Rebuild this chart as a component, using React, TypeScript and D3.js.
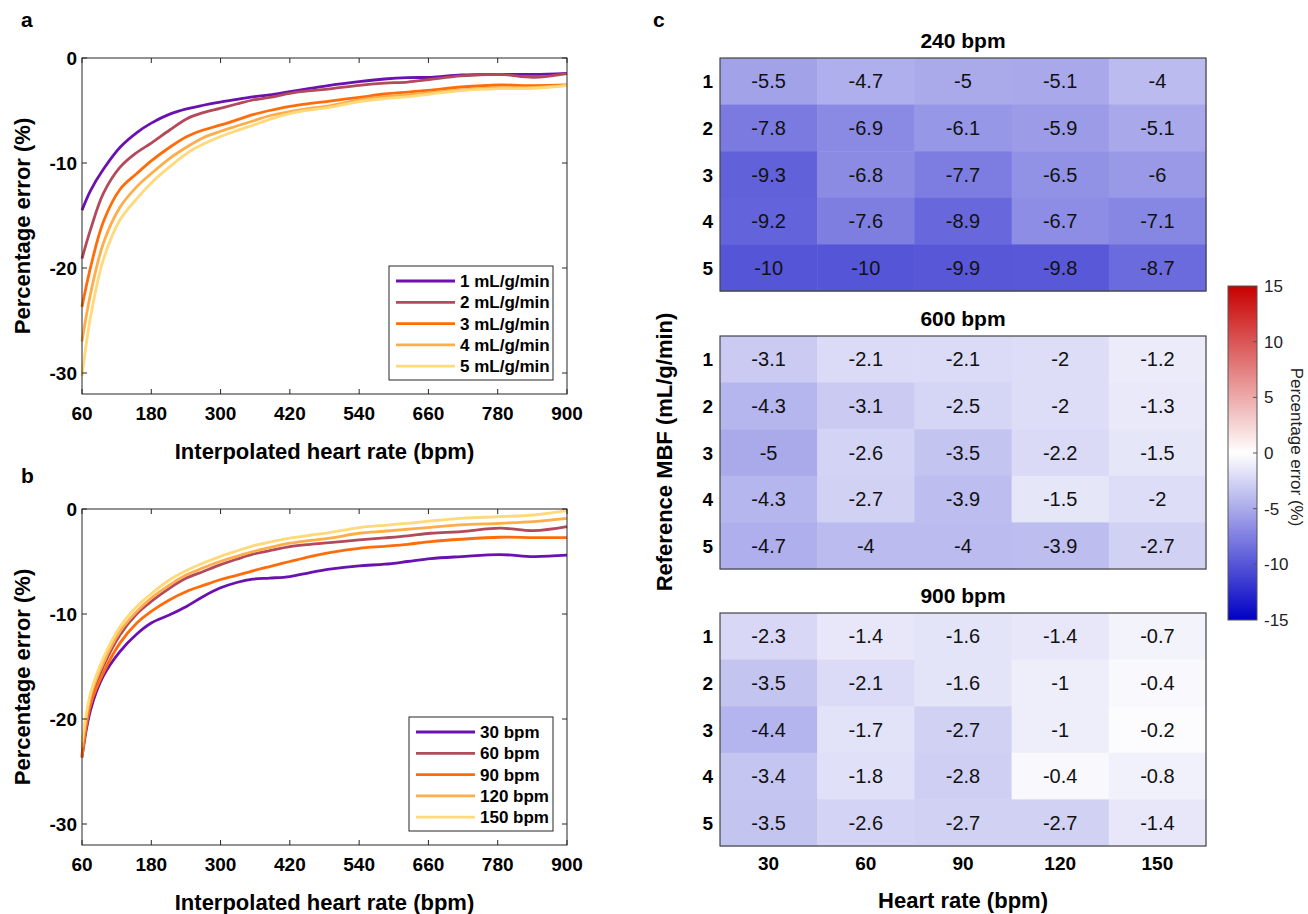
import React from "react";
import * as d3 from "d3";

// interpolated heart rate grid (bpm) shared by panels a and b
const hrGrid = [60, 75, 97, 126, 155, 180, 212, 241, 270, 299, 328, 356, 385, 420, 455, 489, 540, 584, 624, 664, 717, 784, 842, 900];

// panel a: one curve per reference MBF
const mbfLabels = ["1 mL/g/min", "2 mL/g/min", "3 mL/g/min", "4 mL/g/min", "5 mL/g/min"];
const mbf1 = [-14.5, -12.6, -10.6, -8.5, -7.1, -6.2, -5.35, -4.85, -4.5, -4.2, -3.94, -3.7, -3.52, -3.2, -2.89, -2.6, -2.25, -2.0, -1.87, -1.84, -1.62, -1.56, -1.56, -1.46];
const mbf2 = [-19.1, -16.3, -12.9, -10.4, -9.0, -8.1, -6.86, -5.8, -5.2, -4.8, -4.38, -4.0, -3.75, -3.36, -3.11, -2.95, -2.6, -2.4, -2.29, -2.03, -1.71, -1.56, -1.84, -1.49];
const mbf3 = [-23.7, -19.9, -15.6, -12.5, -11.0, -9.8, -8.5, -7.5, -6.86, -6.4, -5.9, -5.4, -5.0, -4.6, -4.32, -4.1, -3.75, -3.43, -3.24, -3.05, -2.76, -2.57, -2.63, -2.57];
const mbf4 = [-27.0, -22.4, -17.65, -14.2, -12.25, -11.0, -9.55, -8.5, -7.6, -7.0, -6.48, -6.0, -5.5, -5.1, -4.8, -4.55, -4.0, -3.68, -3.52, -3.3, -3.05, -2.83, -2.8, -2.6];
const mbf5 = [-30.3, -24.6, -19.2, -15.4, -13.4, -11.9, -10.35, -9.1, -8.2, -7.5, -6.92, -6.4, -5.84, -5.3, -4.95, -4.7, -4.15, -3.87, -3.68, -3.43, -3.11, -2.92, -2.89, -2.63];

// panel b: one curve per true heart rate
const hrLabels = ["30 bpm", "60 bpm", "90 bpm", "120 bpm", "150 bpm"];
const hr30 = [-23.6, -19.1, -15.9, -13.55, -11.9, -10.86, -10.07, -9.28, -8.33, -7.53, -7.0, -6.68, -6.58, -6.43, -6.05, -5.73, -5.41, -5.26, -5.0, -4.72, -4.53, -4.34, -4.53, -4.4];
const hr60 = [-23.4, -18.1, -14.97, -11.97, -9.97, -8.8, -7.53, -6.58, -5.95, -5.32, -4.78, -4.3, -3.96, -3.58, -3.36, -3.2, -2.94, -2.75, -2.56, -2.31, -2.15, -1.83, -2.06, -1.68];
const hr90 = [-23.7, -18.6, -15.6, -12.75, -10.86, -9.75, -8.64, -7.85, -7.28, -6.74, -6.33, -5.89, -5.48, -5.0, -4.53, -4.15, -3.74, -3.55, -3.36, -3.1, -2.88, -2.69, -2.72, -2.72];
const hr120 = [-22.7, -17.8, -14.65, -11.65, -9.75, -8.48, -7.22, -6.27, -5.6, -5.0, -4.5, -4.06, -3.68, -3.26, -3.0, -2.78, -2.31, -2.12, -1.93, -1.74, -1.52, -1.36, -1.2, -0.89];
const hr150 = [-22.2, -17.5, -14.2, -11.2, -9.28, -8.07, -6.74, -5.86, -5.15, -4.53, -4.0, -3.51, -3.15, -2.78, -2.5, -2.25, -1.77, -1.55, -1.36, -1.14, -0.89, -0.73, -0.57, -0.16];

const lineColors = ["#6a11b0", "#b34a5c", "#ff6d0a", "#ffad4a", "#ffd97a"];
const xTicks = [60, 180, 300, 420, 540, 660, 780, 900];
const yTicks = [0, -10, -20, -30];

// panel c: heatmaps, rows = reference MBF 1..5, cols = heart rate
const heatRows = ["1", "2", "3", "4", "5"];
const heatCols = ["30", "60", "90", "120", "150"];
const heatTitles = ["240 bpm", "600 bpm", "900 bpm"];
const heat240 = [
  [-5.5, -4.7, -5, -5.1, -4],
  [-7.8, -6.9, -6.1, -5.9, -5.1],
  [-9.3, -6.8, -7.7, -6.5, -6],
  [-9.2, -7.6, -8.9, -6.7, -7.1],
  [-10, -10, -9.9, -9.8, -8.7],
];
const heat600 = [
  [-3.1, -2.1, -2.1, -2, -1.2],
  [-4.3, -3.1, -2.5, -2, -1.3],
  [-5, -2.6, -3.5, -2.2, -1.5],
  [-4.3, -2.7, -3.9, -1.5, -2],
  [-4.7, -4, -4, -3.9, -2.7],
];
const heat900 = [
  [-2.3, -1.4, -1.6, -1.4, -0.7],
  [-3.5, -2.1, -1.6, -1, -0.4],
  [-4.4, -1.7, -2.7, -1, -0.2],
  [-3.4, -1.8, -2.8, -0.4, -0.8],
  [-3.5, -2.6, -2.7, -2.7, -1.4],
];
const cbTicks = [15, 10, 5, 0, -5, -10, -15];

const FONT = "'Liberation Sans', Arial, Helvetica, sans-serif";
const AX = "#262626";

const color = d3.scaleLinear<string>().domain([-15, 0, 15]).range(["#0000c4", "#ffffff", "#c80000"]);

function LinePanel({ top, series, labels, legendLeft, legendTop }: any) {
  const x = d3.scaleLinear().domain([60, 900]).range([82, 567]);
  const y = d3.scaleLinear().domain([-32, 0]).range([top + 336, top]);
  const line = d3
    .line<number>()
    .x((_, i) => x(hrGrid[i]))
    .y((d) => y(d))
    .curve(d3.curveCatmullRom.alpha(0.5));
  const [x0, x1] = x.range();
  const [y0, y1] = [y(-32), y(0)];
  return (
    <g>
      {series.map((s: number[], i: number) => (
        <path key={i} d={line(s) || ""} fill="none" stroke={lineColors[i]} strokeWidth={2.8} />
      ))}
      <rect x={x0} y={y1} width={x1 - x0} height={y0 - y1} fill="none" stroke={AX} strokeWidth={1} />
      {xTicks.map((t) => (
        <g key={t}>
          <line x1={x(t)} x2={x(t)} y1={y0} y2={y0 - 5} stroke={AX} />
          <line x1={x(t)} x2={x(t)} y1={y1} y2={y1 + 5} stroke={AX} />
          <text x={x(t)} y={y0 + 26} textAnchor="middle" fontSize={19} fontWeight="bold" fill="#000">
            {t}
          </text>
        </g>
      ))}
      {yTicks.map((t) => (
        <g key={t}>
          <line x1={x0} x2={x0 + 5} y1={y(t)} y2={y(t)} stroke={AX} />
          <line x1={x1} x2={x1 - 5} y1={y(t)} y2={y(t)} stroke={AX} />
          <text x={77} y={y(t) + 7} textAnchor="end" fontSize={19} fontWeight="bold" fill="#000">
            {t}
          </text>
        </g>
      ))}
      <text x={(x0 + x1) / 2} y={y0 + 65} textAnchor="middle" fontSize={22} fontWeight="bold">
        Interpolated heart rate (bpm)
      </text>
      <text
        transform={`translate(30,${(y0 + y1) / 2}) rotate(-90)`}
        textAnchor="middle"
        fontSize={22}
        fontWeight="bold"
      >
        Percentage error (%)
      </text>
      <rect x={legendLeft} y={legendTop} width={553 - legendLeft} height={114} fill="#fff" stroke={AX} />
      {labels.map((l: string, i: number) => (
        <g key={l}>
          <line
            x1={legendLeft + 7}
            x2={legendLeft + 66}
            y1={legendTop + 15 + i * 21.3}
            y2={legendTop + 15 + i * 21.3}
            stroke={lineColors[i]}
            strokeWidth={2.8}
          />
          <text x={legendLeft + 71} y={legendTop + 21 + i * 21.3} fontSize={17} fontWeight="bold">
            {l}
          </text>
        </g>
      ))}
    </g>
  );
}

function Heatmap({ top, values, title }: any) {
  const x = d3.scaleBand().domain(heatCols).range([720, 1206]);
  const y = d3.scaleBand().domain(heatRows).range([top, top + 233]);
  return (
    <g>
      <text x={963} y={top - 10} textAnchor="middle" fontSize={21} fontWeight="bold">
        {title}
      </text>
      {values.map((row: number[], r: number) =>
        row.map((v, c) => (
          <g key={`${r}-${c}`}>
            <rect
              x={x(heatCols[c])}
              y={y(heatRows[r])}
              width={x.bandwidth() + 0.5}
              height={y.bandwidth() + 0.5}
              fill={color(v)}
            />
            <text
              x={(x(heatCols[c]) as number) + x.bandwidth() / 2}
              y={(y(heatRows[r]) as number) + y.bandwidth() / 2 + 7}
              textAnchor="middle"
              fontSize={20}
              fill="#111"
            >
              {v}
            </text>
          </g>
        ))
      )}
      <rect x={720} y={top} width={486} height={233} fill="none" stroke="#444" strokeWidth={1.2} />
      {heatRows.map((r) => (
        <text
          key={r}
          x={713}
          y={(y(r) as number) + y.bandwidth() / 2 + 7}
          textAnchor="end"
          fontSize={19}
          fontWeight="bold"
        >
          {r}
        </text>
      ))}
    </g>
  );
}

export default function App() {
  const cbY = d3.scaleLinear().domain([-15, 15]).range([620, 286]);
  const stops = d3.range(0, 1.0001, 0.1);
  return (
    <svg
      width={1308}
      height={914}
      style={{ position: "absolute", left: 0, top: 0, background: "#fff" }}
      fontFamily={FONT}
    >
      <defs>
        <linearGradient id="cb" x1="0" y1="1" x2="0" y2="0">
          {stops.map((s) => (
            <stop key={s} offset={s} stopColor={color(-15 + 30 * s)} />
          ))}
        </linearGradient>
      </defs>
      <rect x={0} y={0} width={1308} height={914} fill="#fff" />
      <text x={21} y={27} fontSize={21} fontWeight="bold">a</text>
      <text x={21} y={483} fontSize={21} fontWeight="bold">b</text>
      <text x={653} y={27} fontSize={21} fontWeight="bold">c</text>

      <LinePanel top={58} series={[mbf1, mbf2, mbf3, mbf4, mbf5]} labels={mbfLabels} legendLeft={389} legendTop={266} />
      <LinePanel top={509} series={[hr30, hr60, hr90, hr120, hr150]} labels={hrLabels} legendLeft={409} legendTop={717} />

      <Heatmap top={58} values={heat240} title={heatTitles[0]} />
      <Heatmap top={336} values={heat600} title={heatTitles[1]} />
      <Heatmap top={613} values={heat900} title={heatTitles[2]} />
      {heatCols.map((c, i) => (
        <text key={c} x={720 + 97.2 * i + 48.6} y={870} textAnchor="middle" fontSize={19} fontWeight="bold">
          {c}
        </text>
      ))}
      <text x={963} y={908} textAnchor="middle" fontSize={22} fontWeight="bold">
        Heart rate (bpm)
      </text>
      <text transform="translate(672,452) rotate(-90)" textAnchor="middle" fontSize={22} fontWeight="bold">
        Reference MBF (mL/g/min)
      </text>

      <rect x={1228} y={286} width={29} height={334} fill="url(#cb)" stroke="#555" strokeWidth={1} />
      {cbTicks.map((t) => (
        <g key={t}>
          {t !== 15 && t !== -15 && <line x1={1257} x2={1253} y1={cbY(t)} y2={cbY(t)} stroke="#555" />}
          <text x={1264} y={cbY(t) + 6} fontSize={17} fill="#222">
            {t}
          </text>
        </g>
      ))}
      <text transform="translate(1291,447) rotate(90)" textAnchor="middle" fontSize={17} fill="#222">
        Percentage error (%)
      </text>
    </svg>
  );
}
